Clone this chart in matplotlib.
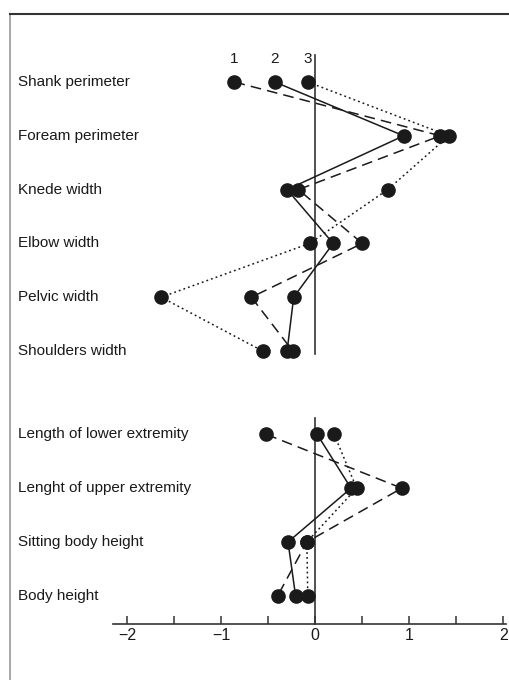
import matplotlib.pyplot as plt
from matplotlib.lines import Line2D

plt.rcParams["font.family"] = ["Liberation Sans", "DejaVu Sans"]

TOP_ROWS = ["Shank perimeter", "Foream perimeter", "Knede width",
            "Elbow width", "Pelvic width", "Shoulders width"]
BOTTOM_ROWS = ["Length of lower extremity", "Lenght of upper extremity",
               "Sitting body height", "Body height"]

# values (z-scores), series 1 dashed, 2 solid, 3 dotted
top_s1 = [-0.86, 1.33, -0.18, 0.50, -0.68, -0.24]
top_s2 = [-0.43, 0.94, -0.30, 0.19, -0.23, -0.30]
top_s3 = [-0.08, 1.42, 0.77, -0.06, -1.64, -0.56]

bottom_s1 = [-0.52, 0.92, -0.09, -0.40]
bottom_s2 = [0.02, 0.38, -0.29, -0.21]
bottom_s3 = [0.20, 0.44, -0.09, -0.08]

SERIES_NAMES = ["1", "2", "3"]
STYLES = [(0, (7, 4)), "-", (0, (1.2, 2))]

X_TICKS = [-2, -1.5, -1, -0.5, 0, 0.5, 1, 1.5, 2]
X_TICK_LABELS = ["\u22122", "", "\u22121", "", "0", "", "1", "", "2"]

W, H = 510, 680
PX_ZERO, PX_UNIT = 315.3, 94.0
ROW0_PX, ROW_PX = 82.0, 53.8
GAP = 1.55
AXIS_ROW = (624 - ROW0_PX) / ROW_PX

fig = plt.figure(figsize=(W / 100, H / 100), dpi=100)
ax = fig.add_axes([0, 0, 1, 1])
ax.set_xlim(-PX_ZERO / PX_UNIT, (W - PX_ZERO) / PX_UNIT)
ax.set_ylim((H - ROW0_PX) / ROW_PX, -ROW0_PX / ROW_PX)

top_y = list(range(len(TOP_ROWS)))
bottom_y = [len(TOP_ROWS) - 1 + GAP + i for i in range(len(BOTTOM_ROWS))]

for vals_top, vals_bot, ls in zip([top_s1, top_s2, top_s3],
                                  [bottom_s1, bottom_s2, bottom_s3], STYLES):
    for vals, ys in [(vals_top, top_y), (vals_bot, bottom_y)]:
        ax.plot(vals, ys, color="#1a1a1a", lw=1.1, linestyle=ls,
                marker="o", markersize=9.5, markerfacecolor="#1a1a1a",
                markeredgecolor="#1a1a1a", zorder=3)

for name, v in zip(SERIES_NAMES, [top_s1[0], top_s2[0], top_s3[0]]):
    ax.text(v, -0.3, name, ha="center", va="bottom", fontsize=11,
            color="#1a1a1a")

# zero reference lines
ax.plot([0, 0], [-0.5, top_y[-1] + 0.06], color="#333333", lw=1.2, zorder=2)
ax.plot([0, 0], [bottom_y[0] - 0.3, AXIS_ROW], color="#333333", lw=1.2, zorder=2)

ytrans = ax.get_yaxis_transform()
for label, y in zip(TOP_ROWS + BOTTOM_ROWS, top_y + bottom_y):
    ax.text(18 / W, y, label, transform=ytrans, ha="left", va="center",
            fontsize=11, color="#1a1a1a")

for side in ["top", "left", "right"]:
    ax.spines[side].set_visible(False)
ax.spines["bottom"].set_position(("data", AXIS_ROW))
ax.spines["bottom"].set_bounds(-2.15, 2.03)
ax.spines["bottom"].set_color("#333333")
ax.spines["bottom"].set_linewidth(1.2)
ax.set_xticks(X_TICKS)
ax.set_xticklabels(X_TICK_LABELS)
ax.tick_params(axis="x", direction="in", length=6, width=1.1, color="#333333",
               labelsize=11.5, labelcolor="#1a1a1a", pad=3)
ax.set_yticks([])

# outer frame
fig.add_artist(Line2D([10 / W, 10 / W], [0, 1 - 14 / H], transform=fig.transFigure,
                      color="#999999", lw=1.2))
fig.add_artist(Line2D([10 / W, 1], [1 - 14 / H, 1 - 14 / H], transform=fig.transFigure,
                      color="#333333", lw=1.5))

fig.savefig("out.png", dpi=100)
